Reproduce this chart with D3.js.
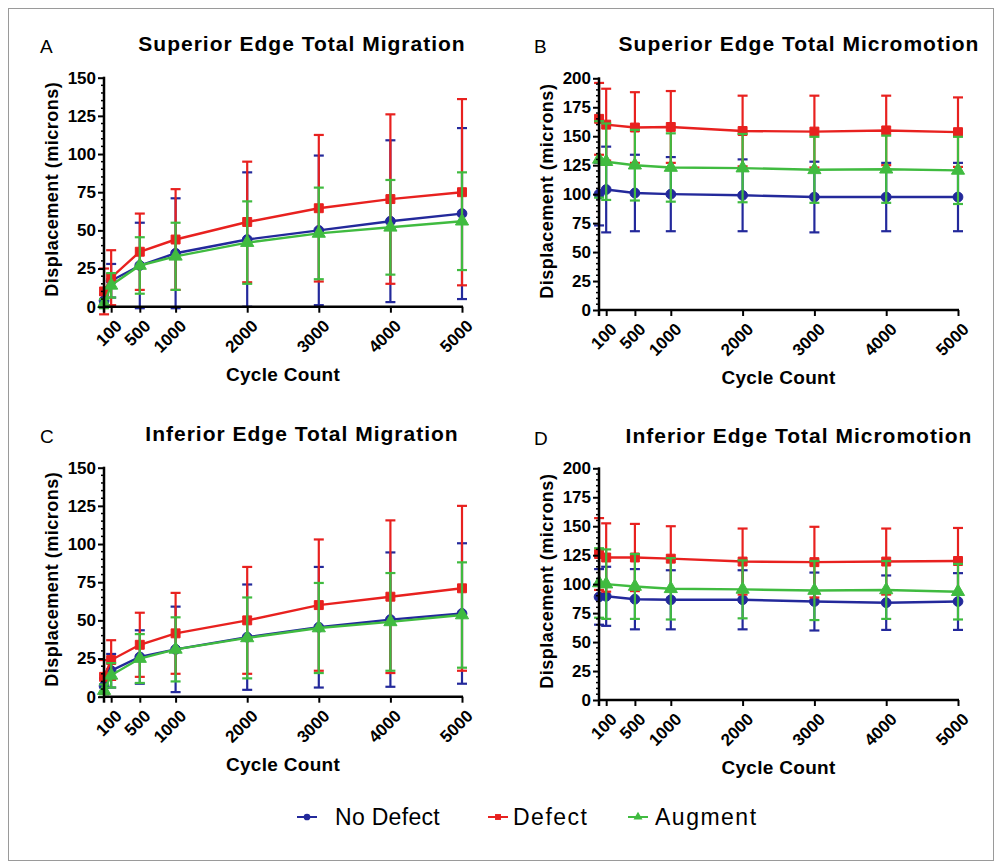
<!DOCTYPE html>
<html>
<head>
<meta charset="utf-8">
<script src="https://cdn.jsdelivr.net/npm/d3@7"></script>
<style>
  body { margin: 0; background: #fff; }
  text { font-family: Arial, "Liberation Sans", sans-serif; }
</style>
</head>
<body>
<div id="chart"></div>
<script>
// Data ////////////////////////////////////////////////////////////////////
const cycles = [1, 100, 500, 1000, 2000, 3000, 4000, 5000]
const xTicks = [100, 500, 1000, 2000, 3000, 4000, 5000]
const seriesNames = ['No Defect', 'Defect', 'Augment']

// A: superior edge total migration (mean, SD)
const supMigNoDefect = [4, 17, 27, 35, 44, 50, 56, 61]
const supMigNoDefectSD = [4, 11, 28, 36, 44, 49, 53, 56]
const supMigDefect = [10, 19, 36, 44, 55.5, 64.5, 70.5, 75]
const supMigDefectSD = [15, 18, 25, 33, 39.5, 48, 55.5, 61]
const supMigAugment = [2, 14, 27, 33, 42, 48, 52, 56]
const supMigAugmentSD = [3, 8, 18.5, 22, 27, 30, 31, 32]

// B: superior edge total micromotion
const supMicNoDefect = [100, 104, 101, 100, 99, 97.5, 97.5, 97.5]
const supMicNoDefectSD = [27, 37, 33, 32, 31, 30.5, 29.5, 29.5]
const supMicDefect = [165, 160, 157.5, 158, 154.5, 154, 155, 153.5]
const supMicDefectSD = [31, 31, 30.5, 31, 30.5, 31, 30, 30]
const supMicAugment = [130, 128, 125, 123, 122.5, 121, 121.5, 120.5]
const supMicAugmentSD = [33, 33, 30.5, 29.5, 29.5, 28.5, 29, 29]

// C: inferior edge total migration
const infMigNoDefect = [7, 17, 26, 31, 39, 45.5, 50.5, 54.5]
const infMigNoDefectSD = [5, 11, 17.5, 28, 34.5, 39.5, 44, 46]
const infMigDefect = [13, 24, 34, 41.5, 50, 60, 65.5, 71]
const infMigDefectSD = [11, 13, 21, 26.5, 35, 43, 50, 54]
const infMigAugment = [4, 14, 25, 31, 38.5, 45, 49, 53.5]
const infMigAugmentSD = [4, 8, 16, 21, 26.5, 29.5, 32, 34.5]

// D: inferior edge total micromotion
const infMicNoDefect = [89, 89.5, 87, 86.5, 86.5, 85, 84, 85]
const infMicNoDefectSD = [24, 25.5, 26, 25.5, 25.5, 25, 23.5, 24.5]
const infMicDefect = [126, 123, 123, 122, 119.5, 119, 119.5, 120]
const infMicDefectSD = [31, 29.5, 29, 28, 28.5, 30.5, 28.5, 28.5]
const infMicAugment = [101, 100, 98, 96, 95.5, 94.5, 95, 93.5]
const infMicAugmentSD = [30, 30, 28, 26.5, 25, 25.5, 25, 24]

const migTicks = [0, 25, 50, 75, 100, 125, 150]
const micTicks = [0, 25, 50, 75, 100, 125, 150, 175, 200]
////////////////////////////////////////////////////////////////////////////

const colors = ['#23299b', '#e8211f', '#40bb40']
const symbols = [d3.symbolCircle, d3.symbolSquare, d3.symbolTriangle]

const svg = d3.select('#chart')
  .append('svg')
  .attr('width', 1002)
  .attr('height', 867)

// outer frame
svg.append('rect')
  .attr('x', 8.5).attr('y', 8.5)
  .attr('width', 985).attr('height', 852)
  .attr('fill', 'none')
  .attr('stroke', '#9a9a9a')
  .attr('stroke-width', 1)

const panels = [
  { letter: 'A', title: 'Superior Edge Total Migration', left: 104, right: 462, top: 77.7, bottom: 306.7,
    yMax: 150, yTicks: migTicks, lx: 40, ty: 51, titleX: 302,
    means: [supMigNoDefect, supMigDefect, supMigAugment], sds: [supMigNoDefectSD, supMigDefectSD, supMigAugmentSD] },
  { letter: 'B', title: 'Superior Edge Total Micromotion', left: 599, right: 958, top: 78.3, bottom: 310,
    yMax: 200, yTicks: micTicks, lx: 534, ty: 51, titleX: 799,
    means: [supMicNoDefect, supMicDefect, supMicAugment], sds: [supMicNoDefectSD, supMicDefectSD, supMicAugmentSD] },
  { letter: 'C', title: 'Inferior Edge Total Migration', left: 104, right: 462, top: 467.7, bottom: 696.7,
    yMax: 150, yTicks: migTicks, lx: 40, ty: 441, titleX: 302,
    means: [infMigNoDefect, infMigDefect, infMigAugment], sds: [infMigNoDefectSD, infMigDefectSD, infMigAugmentSD] },
  { letter: 'D', title: 'Inferior Edge Total Micromotion', left: 599, right: 958, top: 468.3, bottom: 700,
    yMax: 200, yTicks: micTicks, lx: 534, ty: 443, titleX: 799,
    means: [infMicNoDefect, infMicDefect, infMicAugment], sds: [infMicNoDefectSD, infMicDefectSD, infMicAugmentSD] }
]

panels.forEach(p => {
  const g = svg.append('g')

  const xScale = d3.scaleLinear().domain([0, 5000]).range([p.left, p.right])
  const yScale = d3.scaleLinear().domain([0, p.yMax]).range([p.bottom, p.top])

  // panel letter and title
  g.append('text')
    .attr('x', p.lx).attr('y', p.ty + 2)
    .attr('font-size', 19)
    .text(p.letter)
  g.append('text')
    .attr('x', p.titleX).attr('y', p.ty)
    .attr('text-anchor', 'middle')
    .attr('font-size', 21)
    .attr('font-weight', 'bold')
    .attr('letter-spacing', 1)
    .text(p.title)

  // series: blue, red, green (green drawn last)
  p.means.forEach((vals, si) => {
    const pts = cycles.map((c, i) => ({ x: c, y: vals[i], sd: p.sds[si][i] }))
    const sg = g.append('g')
      .attr('stroke', colors[si])
      .attr('fill', colors[si])

    // error bars
    pts.forEach(d => {
      const cx = xScale(d.x)
      const y1 = yScale(d.y + d.sd)
      const y2 = yScale(d.y - d.sd)
      sg.append('line')
        .attr('x1', cx).attr('x2', cx)
        .attr('y1', y1).attr('y2', y2)
        .attr('stroke-width', 2.2)
      ;[y1, y2].forEach(yy => {
        sg.append('line')
          .attr('x1', cx - 5).attr('x2', cx + 5)
          .attr('y1', yy).attr('y2', yy)
          .attr('stroke-width', 2.2)
      })
    })

    // connecting line
    sg.append('path')
      .datum(pts)
      .attr('fill', 'none')
      .attr('stroke-width', 2.4)
      .attr('d', d3.line().x(d => xScale(d.x)).y(d => yScale(d.y)))

    // markers
    sg.selectAll('.m')
      .data(pts)
      .join('path')
      .attr('class', 'm')
      .attr('stroke-width', 1)
      .attr('transform', d => `translate(${xScale(d.x)},${yScale(d.y)})`)
      .attr('d', d3.symbol().type(symbols[si]).size(si === 1 ? 80 : 75))
  })

  // y axis
  const yAxis = d3.axisLeft(yScale)
    .tickValues(p.yTicks)
    .tickSize(6)
    .tickPadding(2)
  const yAxisGroup = g.append('g')
    .attr('transform', `translate(${p.left},0)`)
    .call(yAxis)
  yAxisGroup.select('.domain').remove()
  yAxisGroup.selectAll('line').attr('stroke', '#000').attr('stroke-width', 2)
  yAxisGroup.selectAll('text')
    .attr('font-size', 17)
    .attr('font-weight', 'bold')
    .attr('fill', '#000')
    .attr('font-family', 'Arial, "Liberation Sans", sans-serif')

  // minor y ticks
  const minor = d3.range(0, p.yMax + 0.1, 5).filter(v => v % 25 !== 0)
  g.append('g').selectAll('line')
    .data(minor)
    .join('line')
    .attr('x1', p.left - 3).attr('x2', p.left)
    .attr('y1', d => yScale(d)).attr('y2', d => yScale(d))
    .attr('stroke', '#000').attr('stroke-width', 1.5)

  g.append('line')
    .attr('x1', p.left).attr('x2', p.left)
    .attr('y1', p.top - 1).attr('y2', p.bottom + 6)
    .attr('stroke', '#000').attr('stroke-width', 2.5)

  // x axis
  const xAxis = d3.axisBottom(xScale)
    .tickValues(xTicks)
    .tickSize(6)
    .tickFormat(d3.format('d'))
  const xAxisGroup = g.append('g')
    .attr('transform', `translate(0,${p.bottom})`)
    .call(xAxis)
  xAxisGroup.select('.domain').remove()
  xAxisGroup.selectAll('line').attr('stroke', '#000').attr('stroke-width', 2)
  xAxisGroup.selectAll('text')
    .attr('font-size', 17)
    .attr('font-weight', 'bold')
    .attr('fill', '#000')
    .attr('font-family', 'Arial, "Liberation Sans", sans-serif')
    .attr('text-anchor', 'end')
    .attr('dx', 0).attr('dy', 0)
    .attr('transform', 'translate(5,14) rotate(-45)')

  g.append('line')
    .attr('x1', p.left - 1).attr('x2', p.right + 1)
    .attr('y1', p.bottom).attr('y2', p.bottom)
    .attr('stroke', '#000').attr('stroke-width', 2.5)

  // axis labels
  g.append('text')
    .attr('x', (p.left + p.right) / 2)
    .attr('y', p.bottom + 74)
    .attr('text-anchor', 'middle')
    .attr('font-size', 19)
    .attr('font-weight', 'bold')
    .attr('letter-spacing', 0.3)
    .text('Cycle Count')

  g.append('text')
    .attr('transform', `translate(${p.left - 46},${(p.top + p.bottom) / 2 - 3}) rotate(-90)`)
    .attr('text-anchor', 'middle')
    .attr('font-size', 18)
    .attr('font-weight', 'bold')
    .attr('letter-spacing', 0.5)
    .text('Displacement (microns)')
})

// legend
const legendX = [297, 488, 628]
const textX = [38, 25, 27]
const legend = svg.append('g')
seriesNames.forEach((name, i) => {
  const lg = legend.append('g').attr('transform', `translate(${legendX[i]},817)`)
  lg.append('line')
    .attr('x1', 0).attr('x2', 20)
    .attr('stroke', colors[i]).attr('stroke-width', 2)
  lg.append('path')
    .attr('transform', 'translate(10,0)')
    .attr('fill', colors[i])
    .attr('d', d3.symbol().type(symbols[i]).size(35))
  lg.append('text')
    .attr('x', textX[i])
    .attr('y', 8)
    .attr('font-size', 23)
    .attr('letter-spacing', i === 0 ? 0.3 : 1.5)
    .text(name)
})
</script>
</body>
</html>
